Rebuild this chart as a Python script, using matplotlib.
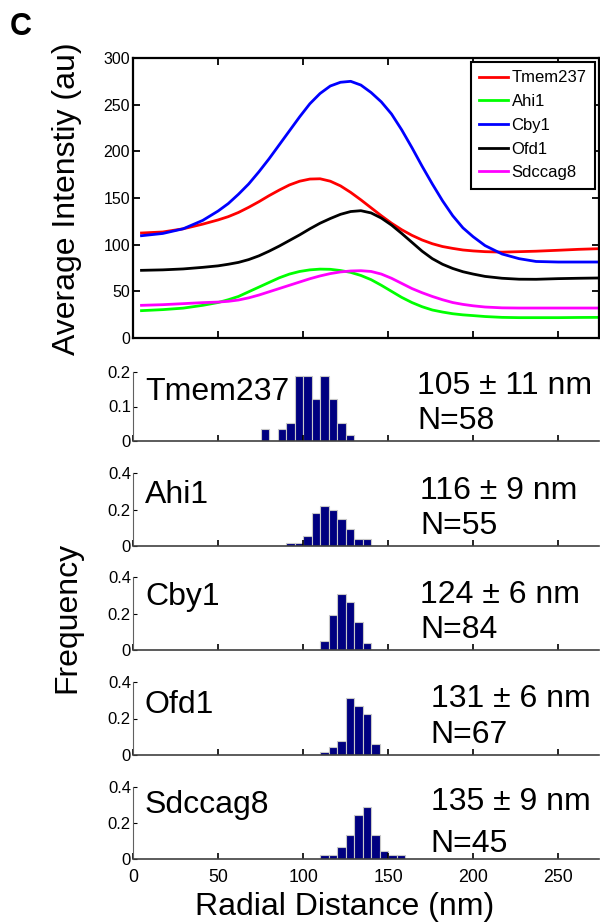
import numpy as np
import matplotlib
matplotlib.use('Agg')
from matplotlib import pyplot as plt

plt.rcParams['font.family'] = ['Liberation Sans', 'DejaVu Sans']

W, H = 600, 924

# mean radial intensity profiles (au) vs radial distance (nm)
radial_nm = [5, 17.5, 29.5, 41, 50, 56, 62, 68, 74, 80, 86, 92, 98, 104, 110, 116, 122, 128,
             134, 140, 146, 152, 158, 164, 170, 176, 182, 188, 194, 200, 207, 217, 227, 237,
             250, 262, 274]
tmem237 = [112.5, 113.6, 117, 122, 126.5, 130, 134.5, 140, 146, 152.5, 158.5, 164, 168, 170.3,
           170.6, 168, 163, 156, 148, 139.5, 131, 123, 116, 110, 105, 101, 98, 96, 94.3, 93.3,
           92.5, 92, 92.5, 93, 94, 95, 95.7]
ahi1 = [29.3, 30.4, 32, 35, 38, 41, 44.5, 49.5, 54.5, 59.5, 64.5, 68.5, 71.3, 73, 73.8, 73.6,
        72.3, 70.3, 67, 62.5, 56.5, 50, 43.5, 38, 33.5, 30, 27.8, 26, 24.8, 24, 23, 22.1, 21.8,
        21.8, 21.8, 22, 22.1]
cby1 = [109.6, 112, 117, 126, 136, 144, 154, 165, 178, 192, 207, 222, 237, 251, 262, 270,
        274, 275, 271, 263, 253, 240, 223, 204, 184, 165, 147, 131, 118, 108.5, 99, 90, 85,
        82, 81.4, 81.4, 81.4]
ofd1 = [72.5, 73, 74, 75.7, 77.3, 79, 81, 84, 88, 93, 98.5, 104.5, 110.5, 117, 123, 128,
        132.5, 135.5, 136.4, 134, 128.5, 121, 112, 102.5, 93, 85, 79, 74.5, 71, 68.5, 66, 64,
        63, 62.9, 63.6, 64, 64.3]
sdccag8 = [35, 35.7, 36.8, 37.9, 38.5, 39.3, 40.7, 43, 46, 49.5, 53, 56.5, 60, 63.5, 66.5,
           69, 70.8, 71.8, 72.1, 71.3, 68.5, 64, 58.5, 53, 48.5, 44.5, 41, 38, 36, 34.5, 33.2,
           32.3, 32.1, 32.1, 32.1, 32.1, 32.1]

names = ['Tmem237', 'Ahi1', 'Cby1', 'Ofd1', 'Sdccag8']
line_colors = ['#FF0000', '#00FF00', '#0000FF', '#000000', '#FF00FF']

# histograms of peak position, 5 nm bins
bins_tmem237 = [77.5, 87.5, 92.5, 97.5, 102.5, 107.5, 112.5, 117.5, 122.5, 127.5]
counts_tmem237 = [2, 2, 3, 11, 11, 7, 11, 7, 3, 1]
bins_ahi1 = [92.5, 97.5, 102.5, 107.5, 112.5, 117.5, 122.5, 127.5, 132.5, 137.5]
counts_ahi1 = [1, 1, 3, 10, 12, 11, 8, 5, 2, 2]
bins_cby1 = [112.5, 117.5, 122.5, 127.5, 132.5, 137.5]
counts_cby1 = [4, 16, 26, 22, 13, 3]
bins_ofd1 = [112.5, 117.5, 122.5, 127.5, 132.5, 137.5, 142.5]
counts_ofd1 = [1, 3, 5, 21, 18, 15, 4]
bins_sdccag8 = [112.5, 117.5, 122.5, 127.5, 132.5, 137.5, 142.5, 147.5, 152.5, 157.5]
counts_sdccag8 = [1, 1, 3, 6, 11, 13, 6, 2, 1, 1]

means = [105, 116, 124, 131, 135]
sds = [11, 9, 6, 6, 9]
ns = [58, 55, 84, 67, 45]

XMAX = 274


def frac(left, top, right, bottom):
    return [left / W, 1 - bottom / H, (right - left) / W, (bottom - top) / H]


fig = plt.figure(figsize=(W / 100, H / 100), dpi=100)

# ---- profiles ----
ax = fig.add_axes(frac(133, 58, 599, 338))
for prof, nm, c in zip([tmem237, ahi1, cby1, ofd1, sdccag8], names, line_colors):
    ax.plot(radial_nm, prof, color=c, lw=2.0, label=nm)
ax.set_xlim(0, XMAX)
ax.set_ylim(0, 300)
ax.set_yticks(range(0, 301, 50))
ax.set_xticks(range(0, 251, 50))
ax.set_xticklabels([])
ax.tick_params(direction='in', top=True, right=True, length=5, width=1.3,
               labelsize=11.5, pad=2)
for s in ax.spines.values():
    s.set_linewidth(1.6)
leg = ax.legend(loc='upper right', fontsize=12, frameon=True, fancybox=False,
                edgecolor='black', framealpha=1, handlelength=1.75, handletextpad=0.2,
                labelspacing=0.52, borderpad=0.5, borderaxespad=0.25)
leg.get_frame().set_linewidth(1.5)

# ---- histograms ----
hist_boxes = [(372, 441), (473, 546), (577, 650), (682, 755), (787, 859)]
hist_bins = [bins_tmem237, bins_ahi1, bins_cby1, bins_ofd1, bins_sdccag8]
hist_counts = [counts_tmem237, counts_ahi1, counts_cby1, counts_ofd1, counts_sdccag8]
name_y = [0.59, 0.59, 0.615, 0.575, 0.64]
stat_x = [167, 169, 169, 175, 175]
stat_y1 = [0.674, 0.65, 0.65, 0.664, 0.68]
stat_y2 = [0.167, 0.171, 0.158, 0.171, 0.10]

for i, (top, bot) in enumerate(hist_boxes):
    hx = fig.add_axes(frac(133, top, 599, bot))
    freq = np.array(hist_counts[i]) / ns[i]
    hx.bar(hist_bins[i], freq, width=5, color='#000080', edgecolor='#c8c8c8', linewidth=0.8)
    hx.set_xlim(0, XMAX)
    if i == 0:
        hx.set_ylim(0, 0.2)
        hx.set_yticks([0, 0.1, 0.2])
        hx.set_yticklabels(['0', '0.1', '0.2'])
    else:
        hx.set_ylim(0, 0.4)
        hx.set_yticks([0, 0.2, 0.4])
        hx.set_yticklabels(['0', '0.2', '0.4'])
    hx.set_xticks(range(0, 251, 50))
    for s in ['top', 'right']:
        hx.spines[s].set_visible(False)
    hx.spines['left'].set_color('#606060')
    hx.spines['left'].set_linewidth(0.8)
    hx.spines['bottom'].set_color('#404040')
    hx.spines['bottom'].set_linewidth(1.2)
    hx.tick_params(axis='y', direction='in', length=3, width=0.8, labelsize=12, pad=1.5)
    hx.tick_params(axis='x', direction='in', length=4, width=1.2, labelsize=12.8, pad=7)
    if i < 4:
        hx.set_xticklabels([])
    hx.text(7, name_y[i], names[i], transform=hx.get_xaxis_transform(),
            fontsize=23, va='baseline', ha='left')
    hx.text(stat_x[i], stat_y1[i], f'{means[i]} \u00b1 {sds[i]} nm',
            transform=hx.get_xaxis_transform(), fontsize=23, va='baseline', ha='left')
    hx.text(stat_x[i], stat_y2[i], f'N={ns[i]}',
            transform=hx.get_xaxis_transform(), fontsize=23, va='baseline', ha='left')

fig.text(10 / W, 1 - 35 / H, 'C', fontsize=22, fontweight='bold', ha='left', va='baseline')
fig.text(67 / W, 1 - 199 / H, 'Average Intenstiy (au)', fontsize=23, rotation=90,
         ha='center', va='center')
fig.text(67 / W, 1 - 617 / H, 'Frequency', fontsize=23, rotation=90,
         ha='center', va='center')
fig.text(345 / W, 1 - 915 / H, 'Radial Distance (nm)', fontsize=23,
         ha='center', va='baseline')

fig.savefig('out.png', dpi=100)
